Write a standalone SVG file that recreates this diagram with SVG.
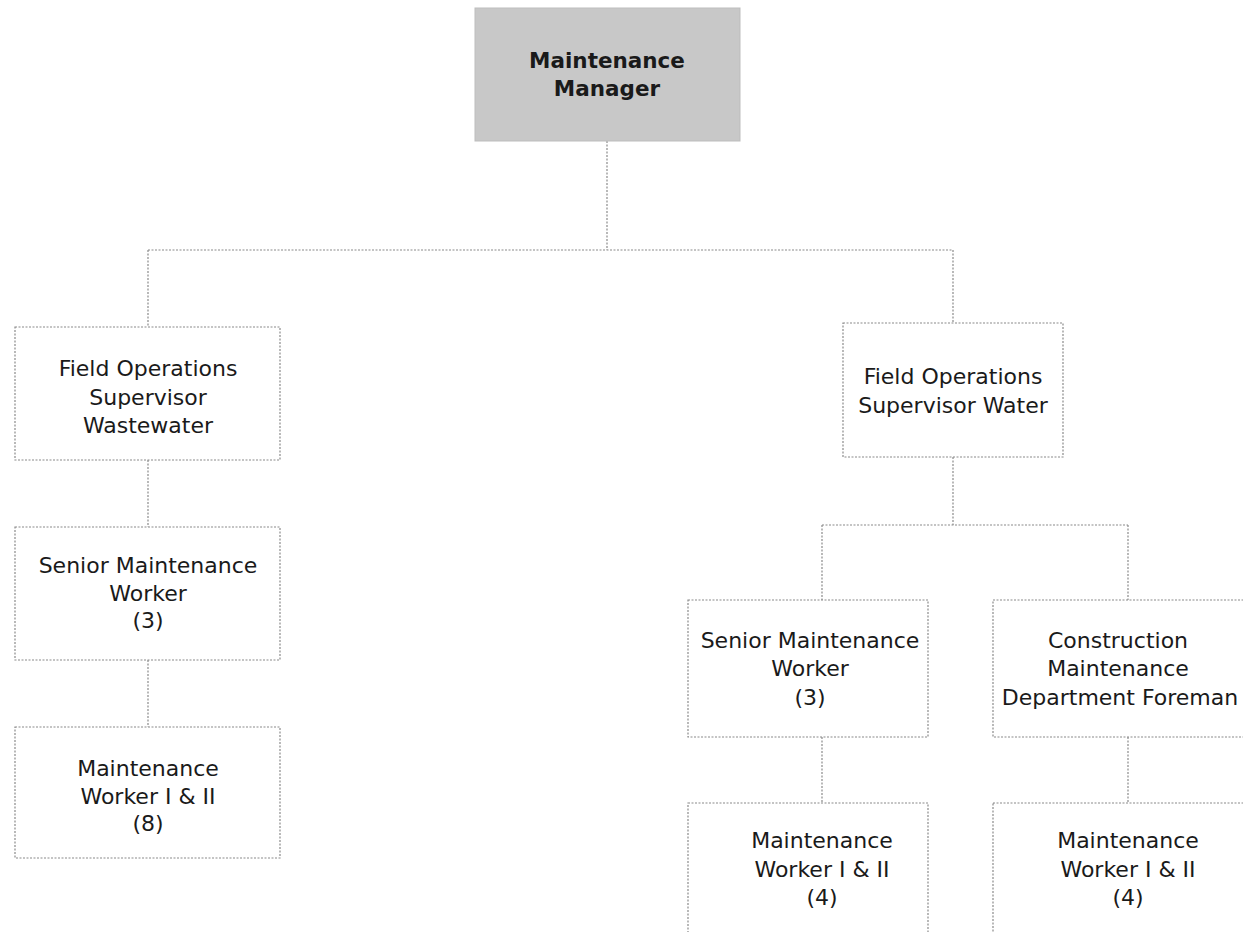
<svg xmlns="http://www.w3.org/2000/svg" width="1243" height="932" viewBox="0 0 1243 932">
<style>
  .box { fill: #ffffff; stroke: #8a8a8a; stroke-width: 1.2; stroke-dasharray: 2 1.5; }
  .mgr { fill: #c8c8c8; stroke: #bdbdbd; stroke-width: 1; }
  .conn { fill: none; stroke: #8a8a8a; stroke-width: 1.2; stroke-dasharray: 2 1.5; }
  text { font-family: "DejaVu Sans", Verdana, sans-serif; font-size: 22px; fill: #1a1a1a; text-anchor: middle; }
  .bold { font-weight: bold; font-size: 21.5px; }
</style>
<rect width="1243" height="932" fill="#ffffff"/>
<g id="connectors">
  <path class="conn" d="M607,141 V250"/>
  <path class="conn" d="M148,250 H953"/>
  <path class="conn" d="M148,250 V327"/>
  <path class="conn" d="M953,250 V323"/>
  <path class="conn" d="M148,460 V527"/>
  <path class="conn" d="M148,660 V727"/>
  <path class="conn" d="M953,457 V525"/>
  <path class="conn" d="M822,525 H1128"/>
  <path class="conn" d="M822,525 V600"/>
  <path class="conn" d="M1128,525 V600"/>
  <path class="conn" d="M822,737 V803"/>
  <path class="conn" d="M1128,737 V803"/>
</g>
<g id="maintenance-manager">
  <rect class="mgr" x="475" y="8" width="265" height="133"/>
  <text class="bold" x="607" y="68">Maintenance</text>
  <text class="bold" x="607" y="96">Manager</text>
</g>
<g id="fos-wastewater">
  <rect class="box" x="15" y="327" width="265" height="133"/>
  <text x="148" y="376">Field Operations</text>
  <text x="148" y="405">Supervisor</text>
  <text x="148" y="433">Wastewater</text>
</g>
<g id="senior-left">
  <rect class="box" x="15" y="527" width="265" height="133"/>
  <text x="148" y="573">Senior Maintenance</text>
  <text x="148" y="601">Worker</text>
  <text x="148" y="628">(3)</text>
</g>
<g id="worker-left">
  <rect class="box" x="15" y="727" width="265" height="131"/>
  <text x="148" y="776">Maintenance</text>
  <text x="148" y="804">Worker I &amp; II</text>
  <text x="148" y="831">(8)</text>
</g>
<g id="fos-water">
  <rect class="box" x="843" y="323" width="220" height="134"/>
  <text x="953" y="384">Field Operations</text>
  <text x="953" y="413">Supervisor Water</text>
</g>
<g id="senior-right">
  <rect class="box" x="688" y="600" width="240" height="137"/>
  <text x="810" y="648">Senior Maintenance</text>
  <text x="810" y="676">Worker</text>
  <text x="810" y="705">(3)</text>
</g>
<g id="construction-foreman">
  <rect class="box" x="993" y="600" width="262" height="137"/>
  <text x="1118" y="648">Construction</text>
  <text x="1118" y="676">Maintenance</text>
  <text x="1120" y="705">Department Foreman</text>
</g>
<g id="worker-right-1">
  <rect class="box" x="688" y="803" width="240" height="140"/>
  <text x="822" y="848">Maintenance</text>
  <text x="822" y="877">Worker I &amp; II</text>
  <text x="822" y="905">(4)</text>
</g>
<g id="worker-right-2">
  <rect class="box" x="993" y="803" width="262" height="140"/>
  <text x="1128" y="848">Maintenance</text>
  <text x="1128" y="877">Worker I &amp; II</text>
  <text x="1128" y="905">(4)</text>
</g>
</svg>
